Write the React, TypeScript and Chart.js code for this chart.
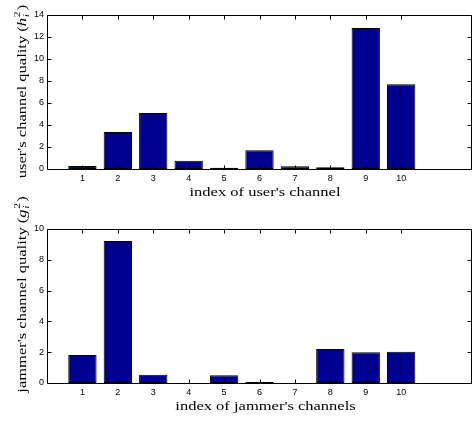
import React, { useEffect, useRef } from "react";
import { Chart, registerables } from "chart.js";

Chart.register(...registerables);

// Channel indices shared by both panels
const channels = [1, 2, 3, 4, 5, 6, 7, 8, 9, 10];
// User channel gains h_i^2
const userQuality = [0.27, 3.36, 5.09, 0.76, 0.12, 1.7, 0.24, 0.15, 12.82, 7.7];
// Jammer channel gains g_i^2
const jammerQuality = [1.82, 9.22, 0.54, 0.0, 0.5, 0.06, 0.0, 2.2, 1.99, 2.03];

const xTicks = [1, 2, 3, 4, 5, 6, 7, 8, 9, 10];
const userYTicks = [0, 2, 4, 6, 8, 10, 12, 14];
const jammerYTicks = [0, 2, 4, 6, 8, 10];

const BAR_FILL = "#00008F";
const SERIF = '"Liberation Serif", "Times New Roman", serif';
const SANS = '"Liberation Sans", Arial, sans-serif';

type Panel = {
  values: number[];
  yTicks: number[];
  xTitle: string;
  yPrefix: string;
  ySymbol: string;
  xTitleX: number;
  xTitleBaseline: number;
  yTitleX: number;
  yTitleY: number;
  padTop: number;
  xAxisHeight: number;
  height: number;
};

const panels: Panel[] = [
  {
    values: userQuality,
    yTicks: userYTicks,
    xTitle: "index of user's channel",
    yPrefix: "user's channel quality (",
    ySymbol: "h",
    xTitleX: 265,
    xTitleBaseline: 196,
    yTitleX: 25.5,
    yTitleY: 91.5,
    padTop: 15,
    xAxisHeight: 41,
    height: 210,
  },
  {
    values: jammerQuality,
    yTicks: jammerYTicks,
    xTitle: "index of jammer's channels",
    yPrefix: "jammer's channel quality (",
    ySymbol: "g",
    xTitleX: 265.5,
    xTitleBaseline: 220,
    yTitleX: 25.5,
    yTitleY: 104.5,
    padTop: 39,
    xAxisHeight: 38,
    height: 231,
  },
];

const TICK_LEN = 4;
// label text: 13px serif, widened along the reading direction
const LABEL_SIZE = 13;
const LABEL_STRETCH = 1.27;

function drawYTitle(ctx: CanvasRenderingContext2D, p: Panel) {
  ctx.save();
  ctx.translate(p.yTitleX, p.yTitleY);
  ctx.rotate(-Math.PI / 2);
  ctx.scale(LABEL_STRETCH, 1);
  ctx.fillStyle = "#000";
  ctx.textAlign = "left";
  ctx.textBaseline = "alphabetic";
  const main = `${LABEL_SIZE}px ${SERIF}`;
  const ital = `italic ${LABEL_SIZE}px ${SERIF}`;
  const small = `italic 9px ${SERIF}`;
  const smallUp = `9px ${SERIF}`;
  ctx.font = main;
  const w1 = ctx.measureText(p.yPrefix).width;
  const w4 = ctx.measureText(")").width;
  ctx.font = ital;
  const w2 = ctx.measureText(p.ySymbol).width;
  ctx.font = smallUp;
  const w3 = ctx.measureText("2").width + 1.5;
  const total = w1 + w2 + w3 + w4;
  let x = -total / 2;
  ctx.font = main;
  ctx.fillText(p.yPrefix, x, 0);
  x += w1;
  ctx.font = ital;
  ctx.fillText(p.ySymbol, x, 0);
  x += w2;
  ctx.font = smallUp;
  ctx.fillText("2", x + 0.5, -6);
  ctx.font = small;
  ctx.fillText("i", x + 0.5, 3);
  x += w3;
  ctx.font = main;
  ctx.fillText(")", x, 0);
  ctx.restore();
}

function drawXTitle(ctx: CanvasRenderingContext2D, p: Panel) {
  ctx.save();
  ctx.translate(p.xTitleX, p.xTitleBaseline);
  ctx.scale(LABEL_STRETCH, 1);
  ctx.fillStyle = "#000";
  ctx.font = `${LABEL_SIZE}px ${SERIF}`;
  ctx.textAlign = "center";
  ctx.textBaseline = "alphabetic";
  ctx.fillText(p.xTitle, 0, 0);
  ctx.restore();
}

const framePlugin = {
  id: "frame",
  afterDraw(chart: any, _args: any, opts: any) {
    const p: Panel = opts.panel;
    const { ctx, chartArea: a, scales } = chart;
    const xs = scales.x;
    const ys = scales.y;
    const L = Math.round(a.left) + 0.5;
    const R = Math.round(a.right) - 0.5;
    const T = Math.round(a.top) + 0.5;
    const B = Math.round(a.bottom) + 0.5;
    ctx.save();
    ctx.strokeStyle = "#000";
    ctx.lineWidth = 1;
    ctx.beginPath();
    ctx.rect(L, T, R - L, B - T);
    // inward ticks on all four sides
    xTicks.forEach((v) => {
      const px = Math.round(xs.getPixelForValue(v)) + 0.5;
      ctx.moveTo(px, B);
      ctx.lineTo(px, B - TICK_LEN);
      ctx.moveTo(px, T);
      ctx.lineTo(px, T + TICK_LEN);
    });
    p.yTicks.forEach((v) => {
      const py = Math.round(ys.getPixelForValue(v)) + 0.5;
      ctx.moveTo(L, py);
      ctx.lineTo(L + TICK_LEN, py);
      ctx.moveTo(R, py);
      ctx.lineTo(R - TICK_LEN, py);
    });
    ctx.stroke();
    ctx.restore();

    drawXTitle(ctx, p);
    drawYTitle(ctx, p);
  },
};

function BarPanel({ panel, top }: { panel: Panel; top: number }) {
  const ref = useRef<HTMLCanvasElement>(null);

  useEffect(() => {
    if (!ref.current) return;
    const yMax = panel.yTicks[panel.yTicks.length - 1];
    const chart = new Chart(ref.current, {
      type: "bar",
      data: {
        datasets: [
          {
            data: panel.values.map((v, i) => ({ x: channels[i], y: v })),
            backgroundColor: BAR_FILL,
            borderColor: "#000",
            borderWidth: 1,
            borderSkipped: false,
            barPercentage: 0.8,
            categoryPercentage: 1,
          } as any,
        ],
      },
      options: {
        responsive: false,
        animation: false,
        events: [],
        layout: { padding: { top: panel.padTop, right: 2, left: 0, bottom: 0 } },
        plugins: {
          legend: { display: false },
          tooltip: { enabled: false },
          frame: { panel },
        } as any,
        scales: {
          x: {
            type: "linear",
            min: 0,
            max: 12,
            offset: false,
            grid: { display: false, drawTicks: false, offset: false },
            border: { display: false },
            ticks: {
              color: "#000",
              font: { family: SANS, size: 9 },
              padding: 4,
              maxRotation: 0,
            },
            afterBuildTicks: (s: any) => {
              s.ticks = xTicks.map((v) => ({ value: v }));
            },
            afterFit: (s: any) => {
              s.height = panel.xAxisHeight;
            },
          },
          y: {
            type: "linear",
            min: 0,
            max: yMax,
            grid: { display: false, drawTicks: false },
            border: { display: false },
            ticks: {
              color: "#000",
              font: { family: SANS, size: 9 },
              padding: 3,
            },
            afterBuildTicks: (s: any) => {
              s.ticks = panel.yTicks.map((v) => ({ value: v }));
            },
            afterFit: (s: any) => {
              s.width = 47;
            },
          },
        },
      } as any,
      plugins: [framePlugin],
    });
    return () => chart.destroy();
  }, [panel]);

  return (
    <canvas
      ref={ref}
      width={474}
      height={panel.height}
      style={{ position: "absolute", left: 0, top, width: 474, height: panel.height }}
    />
  );
}

export default function App() {
  return (
    <div
      style={{
        position: "fixed",
        left: 0,
        top: 0,
        width: 474,
        height: 421,
        background: "#fff",
        overflow: "hidden",
      }}
    >
      <BarPanel panel={panels[0]} top={0} />
      <BarPanel panel={panels[1]} top={190} />
    </div>
  );
}
